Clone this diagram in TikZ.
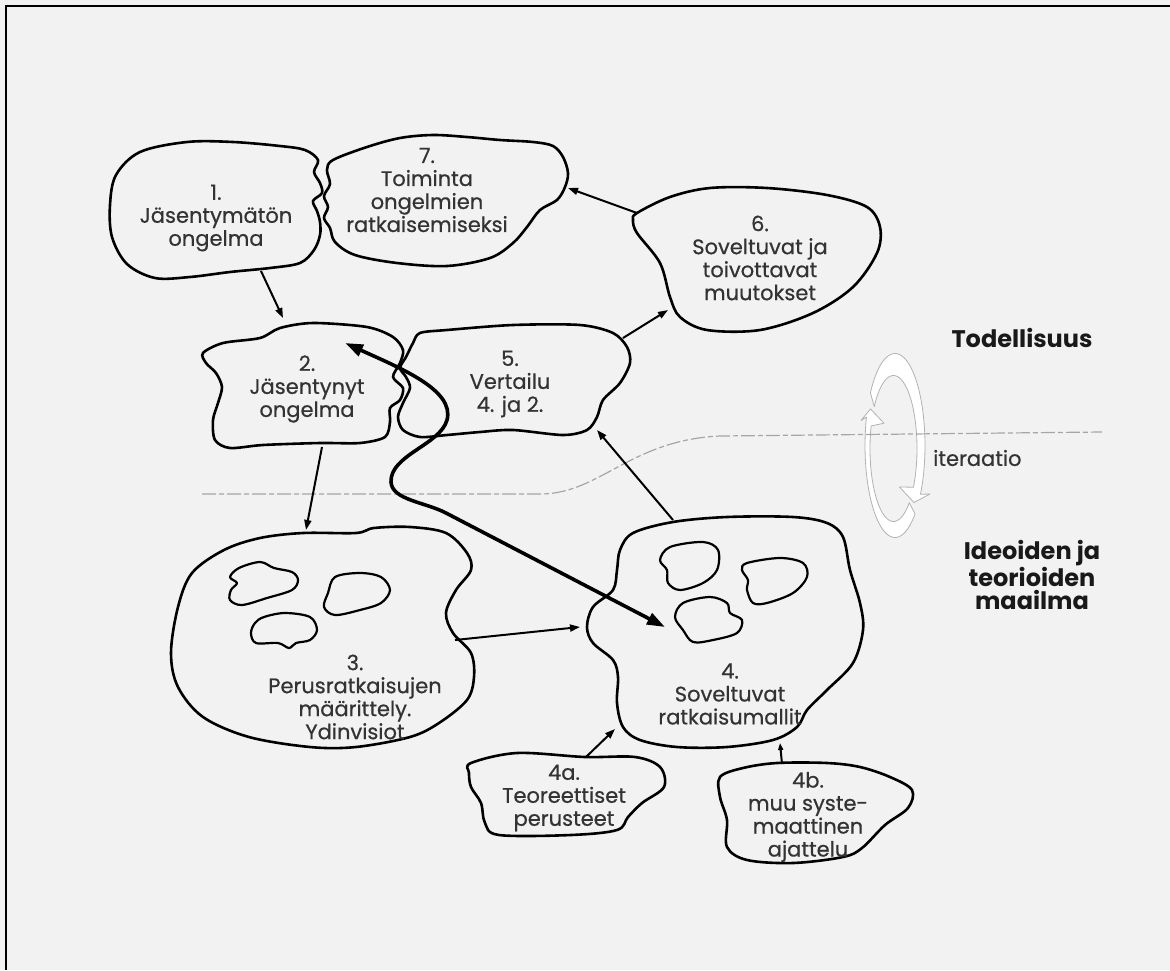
\documentclass[tikz,border=0pt]{standalone}
\usepackage{fontspec}
\setmainfont{Poppins}
\newfontfamily\lblfont{Poppins}[FakeBold=0.6]
\usetikzlibrary{arrows.meta}
\begin{document}
\begin{tikzpicture}[x=1pt,y=-1pt,
  blob/.style={draw=black, line width=2.6pt, line join=round},
  inner/.style={draw=black, line width=2.2pt, line join=round},
  conn/.style={line width=2pt, -{Triangle[length=10pt,width=7pt]}},
  bigarrow/.style={line width=3.6pt, {Triangle[length=18pt,width=12pt]}-{Triangle[length=18pt,width=12pt]}},
  lbl/.style={font=\lblfont\fontsize{21}{23}\selectfont, align=center, text=black!80, inner sep=0pt},
  bold/.style={font=\bfseries\fontsize{24}{23}\selectfont, align=center, text=black!90, inner sep=0pt},
  ring/.style={fill=white, draw=gray!60, line width=0.8pt, line join=round},
  border/.style={dash pattern=on 14pt off 3pt on 5pt off 3pt, draw=gray!70, line width=1.2pt}
]
\useasboundingbox (0,0) rectangle (1170,970);
\fill[black!5] (0,0) rectangle (1170,970);
\draw[line width=2.5pt] (6,970) -- (6,6) -- (1170,6);

% iteration ring
\filldraw[ring] plot[domain=48:198, samples=40, variable=\t] ({895+30*cos(\t)},{445.5+92*sin(\t)})
  -- (861,420.5) -- (870.5,409) -- (884,423.2)
  -- plot[domain=198:48, samples=40, variable=\t] ({893.5+23.5*cos(\t)},{448.5+73*sin(\t)}) -- cycle;
\filldraw[ring] plot[domain=215:392, samples=50, variable=\t] ({895+30*cos(\t)},{445.5+92*sin(\t)})
  -- (930,494) -- (914,502.5) -- (899.5,487)
  -- plot[domain=392:215, samples=50, variable=\t] ({893.5+23.5*cos(\t)},{448.5+73*sin(\t)}) -- cycle;

% boundary line between reality and ideas
\draw[border] (202,494) -- (540,494) .. controls (600,494) and (630,440) .. (720,436) -- (1102,432);

% shape 1
\draw[blob] plot[smooth cycle, tension=0.55] coordinates {(110,205) (116,175) (140,152) (187,142) (233,142) (280,146) (305,150) (318,160) (314,172) (320,183) (322,193) (313,201) (317,211) (320,222) (320,235) (314,250) (300,263) (270,268) (230,272) (190,277) (155,278) (127,264) (112,237)};
% shape 7
\draw[blob] plot[smooth cycle, tension=0.55] coordinates {(333,160) (367,147) (400,138) (433,135) (467,137) (500,140) (533,142) (553,146) (563,157) (568,173) (565,187) (557,200) (540,210) (527,227) (513,243) (490,258) (447,266) (397,263) (355,255) (335,242) (330,228) (324,218) (328,207) (324,196) (330,184) (327,170)};
% shape 6
\draw[blob] plot[smooth cycle, tension=0.55] coordinates {(637,213) (670,197) (710,188) (767,188) (827,195) (867,207) (880,227) (877,253) (853,287) (813,313) (760,330) (707,330) (680,317) (670,297) (660,263) (637,233) (633,220)};
% shape 2
\draw[blob] plot[smooth cycle, tension=0.5] coordinates {(203,353) (223,343) (260,338) (280,328) (313,323) (367,327) (393,337) (403,350) (400,363) (393,377) (403,388) (400,400) (390,408) (390,422) (385,437) (360,443) (320,443) (263,445) (230,448) (215,440) (213,420) (218,403) (222,387) (216,373) (206,363)};
% shape 5
\draw[blob] plot[smooth cycle, tension=0.5] coordinates {(413,343) (420,333) (447,330) (513,325) (580,325) (613,333) (627,347) (630,363) (620,383) (603,400) (597,417) (587,430) (563,435) (513,430) (480,432) (447,435) (420,437) (403,430) (398,417) (403,403) (410,388) (406,377) (400,368) (406,357)};
% shape 3
\draw[blob] plot[smooth cycle, tension=0.55] coordinates {(303,533) (356,533) (374,528) (410,527) (446,533) (467,553) (471,570) (456,590) (446,613) (453,633) (471,653) (474,677) (467,700) (439,723) (410,737) (356,747) (310,747) (249,737) (203,717) (178,687) (171,653) (178,607) (192,573) (224,550) (260,538)};
\draw[inner] plot[smooth cycle, tension=0.55] coordinates {(239,568) (260,562) (274,568) (292,572) (298,580) (292,590) (267,598) (242,605) (230,600) (231,590) (237,583) (230,577)};
\draw[inner] plot[smooth cycle, tension=0.55] coordinates {(335,577) (360,573) (381,577) (390,590) (381,603) (360,610) (335,615) (324,607) (328,593)};
\draw[inner] plot[smooth cycle, tension=0.55] coordinates {(264,617) (285,613) (310,617) (317,630) (310,640) (296,643) (289,648) (278,643) (256,643) (251,633) (255,623)};
% shape 4
\draw[blob] plot[smooth cycle, tension=0.55] coordinates {(673,522) (727,517) (793,517) (827,523) (843,537) (850,570) (860,603) (863,630) (853,663) (827,690) (807,710) (797,727) (773,740) (727,747) (677,747) (640,740) (623,727) (617,703) (618,677) (613,660) (593,643) (587,627) (593,607) (613,590) (617,570) (620,550) (633,533)};
\draw[inner] plot[smooth cycle, tension=0.55] coordinates {(670,547) (703,542) (718,550) (717,570) (703,583) (680,590) (668,583) (667,570) (660,560)};
\draw[inner] plot[smooth cycle, tension=0.55] coordinates {(747,563) (780,558) (803,563) (807,577) (793,593) (767,603) (753,603) (747,590) (748,580) (742,570)};
\draw[inner] plot[smooth cycle, tension=0.55] coordinates {(683,603) (710,597) (727,603) (730,613) (742,620) (737,633) (713,640) (693,642) (683,630) (675,617)};
% shape 4a
\draw[blob] plot[smooth cycle, tension=0.55] coordinates {(471,763) (517,753) (585,757) (635,757) (660,767) (664,787) (642,803) (628,817) (617,830) (571,835) (499,835) (485,823) (481,803) (471,787) (469,773)};
% shape 4b
\draw[blob] plot[smooth cycle, tension=0.55] coordinates {(720,777) (743,768) (777,763) (827,763) (860,767) (890,777) (912,790) (908,808) (885,825) (862,848) (843,857) (793,863) (747,860) (727,847) (727,820) (720,797)};

% labels
\node[lbl] (t1) at (216,218) {1.\\Jäsentymätön\\ongelma};
\node[lbl] (t7) at (427,190) {7.\\Toiminta\\ongelmien\\ratkaisemiseksi};
\node[lbl] (t6) at (760,258) {6.\\Soveltuvat ja\\toivottavat\\muutokset};
\node[lbl] (t2) at (307,389) {2.\\Jäsentynyt\\ongelma};
\node[lbl] (t5) at (510,384) {5.\\Vertailu\\4. ja 2.};
\node[lbl] (t3) at (355,697) {3.\\Perusratkaisujen\\määrittely.\\Ydinvisiot};
\node[lbl] (t4) at (730,694) {4.\\Soveltuvat\\ratkaisumallit};
\node[lbl] (t4a) at (564,798) {4a.\\Teoreettiset\\perusteet};
\node[lbl] (t4b) at (808,817) {4b.\\muu syste-\\maattinen\\ajattelu};
\node[bold] (real) at (1022,338) {Todellisuus};
\node[bold] (ideas) at (1032,575) {Ideoiden ja\\teorioiden\\maailma};
\node[lbl, anchor=west] (iter) at (933,458) {iteraatio};

% connector end points
\coordinate (a1) at (261,271); \coordinate (a2) at (283,318);
\coordinate (b2) at (322,447); \coordinate (b3) at (306,530);
\coordinate (c3) at (455,640); \coordinate (c4) at (580,627);
\coordinate (d4a) at (586,757); \coordinate (d4) at (615,729);
\coordinate (e4b) at (782,764); \coordinate (e4) at (780,743);
\coordinate (f4) at (673,520); \coordinate (f5) at (597,430);
\coordinate (g5) at (623,338); \coordinate (g6) at (668,310);
\coordinate (h6) at (637,213); \coordinate (h7) at (568,188);
\coordinate (bigS) at (345,343); \coordinate (bigE) at (665,627);

\draw[conn] (a1) -- (a2);
\draw[conn] (b2) -- (b3);
\draw[conn] (c3) -- (c4);
\draw[conn] (d4a) -- (d4);
\draw[line width=2pt, -{Triangle[length=7pt,width=5pt]}] (e4b) -- (e4);
\draw[conn] (f4) -- (f5);
\draw[conn] (g5) -- (g6);
\draw[conn] (h6) -- (h7);
\draw[bigarrow] (bigS) .. controls (400,368) and (455,390) .. (447,420)
  .. controls (440,445) and (390,455) .. (391,482)
  .. controls (392,500) and (425,502) .. (446,513) -- (bigE);
\end{tikzpicture}
\end{document}
